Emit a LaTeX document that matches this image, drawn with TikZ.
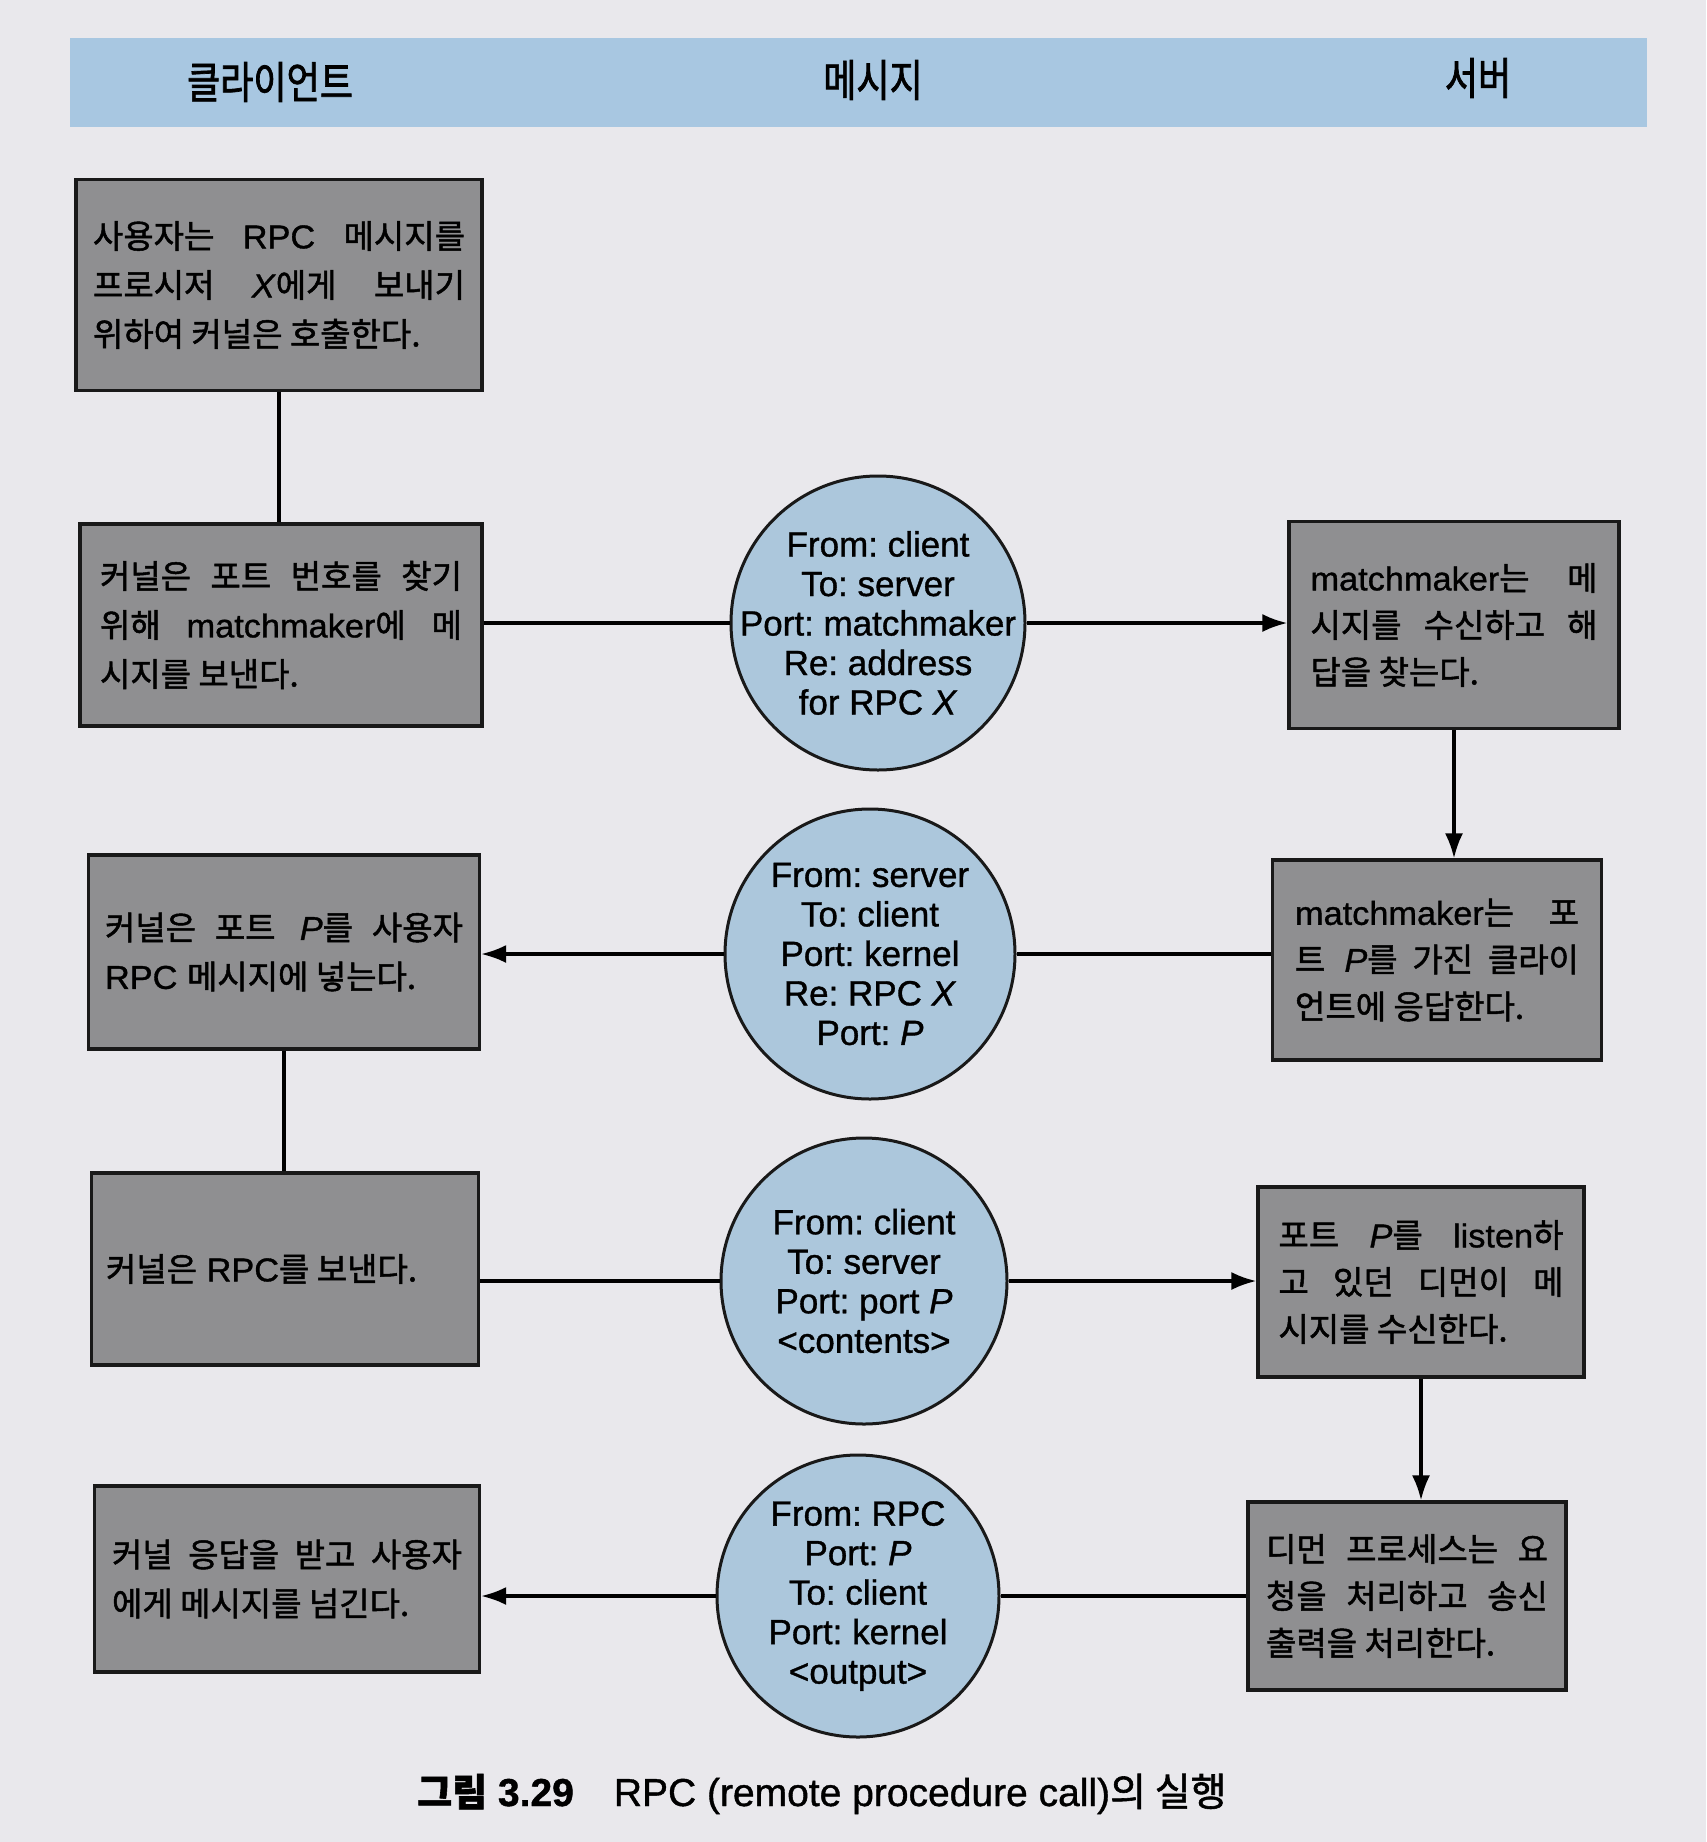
\documentclass[tikz,border=0pt]{standalone}
\usepackage{fontspec}
\setmainfont{Liberation Sans}[FakeBold=1.0, FakeStretch=1.04]
\newfontfamily\circfont{Liberation Sans}[FakeBold=1.0]
\newfontfamily\kr{Noto Sans CJK KR}[FakeBold=1.5]
\newfontfamily\krh{Noto Sans CJK KR}[FakeBold=1.6, FakeStretch=0.82]
\usetikzlibrary{arrows.meta}
\definecolor{pagebg}{RGB}{233,232,236}
\definecolor{hdr}{RGB}{168,199,225}
\definecolor{boxg}{RGB}{143,143,145}
\definecolor{circb}{RGB}{172,199,220}
\newcommand\jl[2]{\makebox[#1pt][s]{#2}}
\newcommand\K[1]{{\kr\fontsize{33}{48}\selectfont #1}}
\frenchspacing
\begin{document}
\begin{tikzpicture}[x=1pt,y=-1pt,
  gbox/.style={draw=black!90, line width=3.2pt, fill=boxg, inner sep=0pt, align=left, font=\fontsize{33}{49}\selectfont},
  rbox/.style={gbox, font=\fontsize{33}{47}\selectfont},
  msg/.style={circle, draw=black!90, line width=3pt, fill=circb, inner sep=-25pt, align=center, font=\circfont\fontsize{35}{39.5}\selectfont},
  conn/.style={line width=3.2pt, draw=black},
  arr/.style={conn, -{Latex[length=25pt,width=18pt]}},
  hdrtext/.style={font=\krh\fontsize{44}{46}\selectfont, inner sep=0pt}]
\useasboundingbox (0,0) rectangle (1706,1842);
\fill[pagebg] (0,0) rectangle (1706,1842);
% header
\fill[hdr] (70,38) rectangle (1647,127);
\node[hdrtext] (hc) at (270,82) {클라이언트};
\node[hdrtext] (hm) at (873,80) {메시지};
\node[hdrtext] (hs) at (1478,78) {서버};
% left boxes
\node[gbox, minimum width=406pt, minimum height=211pt] (L1) at (279,285)
 {\jl{372}{\K{사용자는} RPC \K{메시지를}}\\
  \jl{372}{\K{프로시저} \textit{X}\K{에게} \K{보내기}}\\
  \K{위하여 커널은 호출한다.}};
\node[gbox, minimum width=402pt, minimum height=202pt] (L2) at (281,625)
 {\jl{362}{\K{커널은 포트 번호를 찾기}}\\
  \jl{362}{\K{위해} matchmaker\K{에} \K{메}}\\
  \K{시지를 보낸다.}};
\node[gbox, minimum width=391pt, minimum height=194pt] (L3) at (284,952)
 {\jl{358}{\K{커널은 포트} \textit{P}\K{를 사용자}}\\
  RPC \K{메시지에 넣는다.}};
\node[gbox, minimum width=387pt, minimum height=192pt] (L4) at (285,1269)
 {\makebox[358pt][l]{\K{커널은} RPC\K{를 보낸다.}}};
\node[gbox, minimum width=385pt, minimum height=186pt] (L5) at (287,1579)
 {\jl{350}{\K{커널 응답을 받고 사용자}}\\
  \K{에게 메시지를 넘긴다.}};
% messages
\node[msg, minimum size=294pt] (C1) at (878,623)
 {From: client\\To: server\\Port: matchmaker\\Re: address\\for RPC \textit{X}};
\node[msg, minimum size=290pt] (C2) at (870,954)
 {From: server\\To: client\\Port: kernel\\Re: RPC \textit{X}\\Port: \textit{P}};
\node[msg, minimum size=286pt] (C3) at (864,1281)
 {From: client\\To: server\\Port: port \textit{P}\\<contents>};
\node[msg, minimum size=282pt] (C4) at (858,1596)
 {From: RPC\\Port: \textit{P}\\To: client\\Port: kernel\\<output>};
% right boxes
\node[rbox, minimum width=330pt, minimum height=207pt] (R1) at (1454,625)
 {\jl{287}{matchmaker\K{는 메}}\\
  \jl{287}{\K{시지를 수신하고 해}}\\
  \K{답을 찾는다.}};
\node[rbox, minimum width=329pt, minimum height=200pt] (R2) at (1437,960)
 {\jl{284}{matchmaker\K{는 포}}\\
  \jl{284}{\K{트} \textit{P}\K{를 가진 클라이}}\\
  \K{언트에 응답한다.}};
\node[rbox, minimum width=326pt, minimum height=190pt] (R3) at (1421,1282)
 {\jl{285}{\K{포트} \textit{P}\K{를} listen\K{하}}\\
  \jl{285}{\K{고 있던 디먼이 메}}\\
  \K{시지를 수신한다.}};
\node[rbox, minimum width=318pt, minimum height=188pt] (R4) at (1407,1596)
 {\jl{282}{\K{디먼 프로세스는 요}}\\
  \jl{282}{\K{청을 처리하고 송신}}\\
  \K{출력을 처리한다.}};
% connectors
\draw[conn] (L1.south) -- (L1.south |- L2.north);
\draw[conn] (C1.west -| L2.east) -- (C1.west);
\draw[arr] (C1.east) -- (C1.east -| R1.west);
\draw[arr] (R1.south) -- (R1.south |- R2.north);
\draw[conn] (C2.east -| R2.west) -- (C2.east);
\draw[arr] (C2.west) -- (C2.west -| L3.east);
\draw[conn] (L3.south) -- (L3.south |- L4.north);
\draw[conn] (C3.west -| L4.east) -- (C3.west);
\draw[arr] (C3.east) -- (C3.east -| R3.west);
\draw[arr] (R3.south) -- (R3.south |- R4.north);
\draw[conn] (C4.east -| R4.west) -- (C4.east);
\draw[arr] (C4.west) -- (C4.west -| L5.east);
% caption
\node[anchor=base west, inner sep=0pt, font=\circfont\fontsize{39}{42}\selectfont] (cap) at (417,1806)
 {{\kr\bfseries\fontsize{38}{42}\selectfont 그림} \textbf{3.29}\hspace{40pt}RPC (remote procedure call){\kr 의 실행}};
\end{tikzpicture}
\end{document}
